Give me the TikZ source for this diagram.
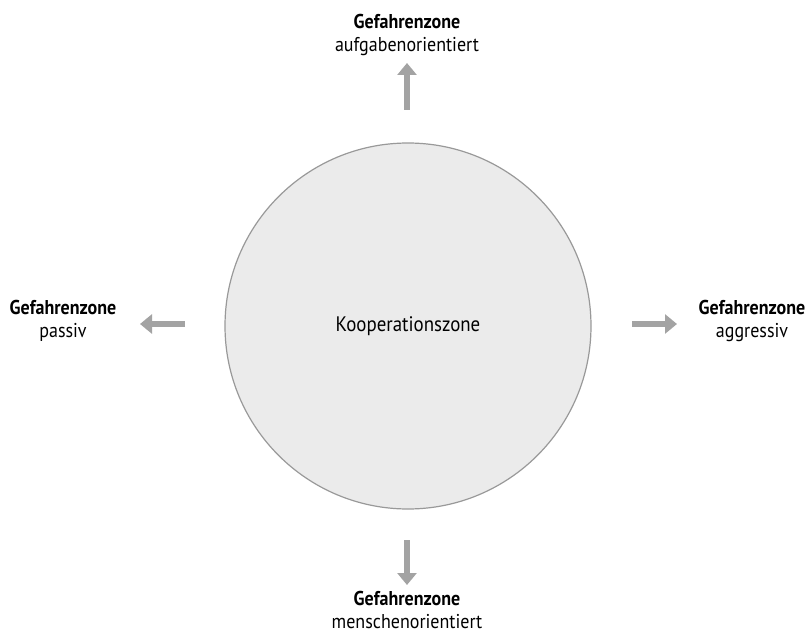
\documentclass[tikz,border=0pt]{standalone}
\usepackage{fontspec}
\setmainfont[FakeStretch=0.9]{PT Sans}
\usetikzlibrary{arrows.meta}
\definecolor{zonefill}{HTML}{EBEBEB}
\definecolor{zonedraw}{HTML}{999999}
\definecolor{pfeilgrau}{HTML}{A3A3A3}

\begin{document}
\begin{tikzpicture}[x=1pt, y=-1pt,
  pfeil/.style={draw=pfeilgrau, line width=6pt, -{Triangle[length=12pt, width=19pt]}},
  zone/.style={align=center, font=\fontsize{20}{23}\selectfont, inner sep=0pt}]
  \useasboundingbox (0,0) rectangle (812,642);
  \node[circle, draw=zonedraw, fill=zonefill, line width=1.2pt, minimum size=366pt, inner sep=0pt, font=\fontsize{21}{23}\selectfont] (koop) at (408,326) {Kooperationszone};
  \node[zone] (oben) at (407,35) {\textbf{Gefahrenzone}\\aufgabenorientiert};
  \node[zone] (links) at (63,321) {\textbf{Gefahrenzone}\\passiv};
  \node[zone] (rechts) at (752,321) {\textbf{Gefahrenzone}\\aggressiv};
  \node[zone] (unten) at (407,610) {\textbf{Gefahrenzone}\\menschenorientiert};
  \coordinate (obenA) at (407,110);
  \coordinate (obenB) at (407,63);
  \coordinate (linksA) at (185,324);
  \coordinate (linksB) at (140,324);
  \coordinate (rechtsA) at (632,324);
  \coordinate (rechtsB) at (677,324);
  \coordinate (untenA) at (407,540);
  \coordinate (untenB) at (407,585);
  \draw[pfeil] (obenA) -- (obenB);
  \draw[pfeil] (linksA) -- (linksB);
  \draw[pfeil] (rechtsA) -- (rechtsB);
  \draw[pfeil] (untenA) -- (untenB);
\end{tikzpicture}
\end{document}
